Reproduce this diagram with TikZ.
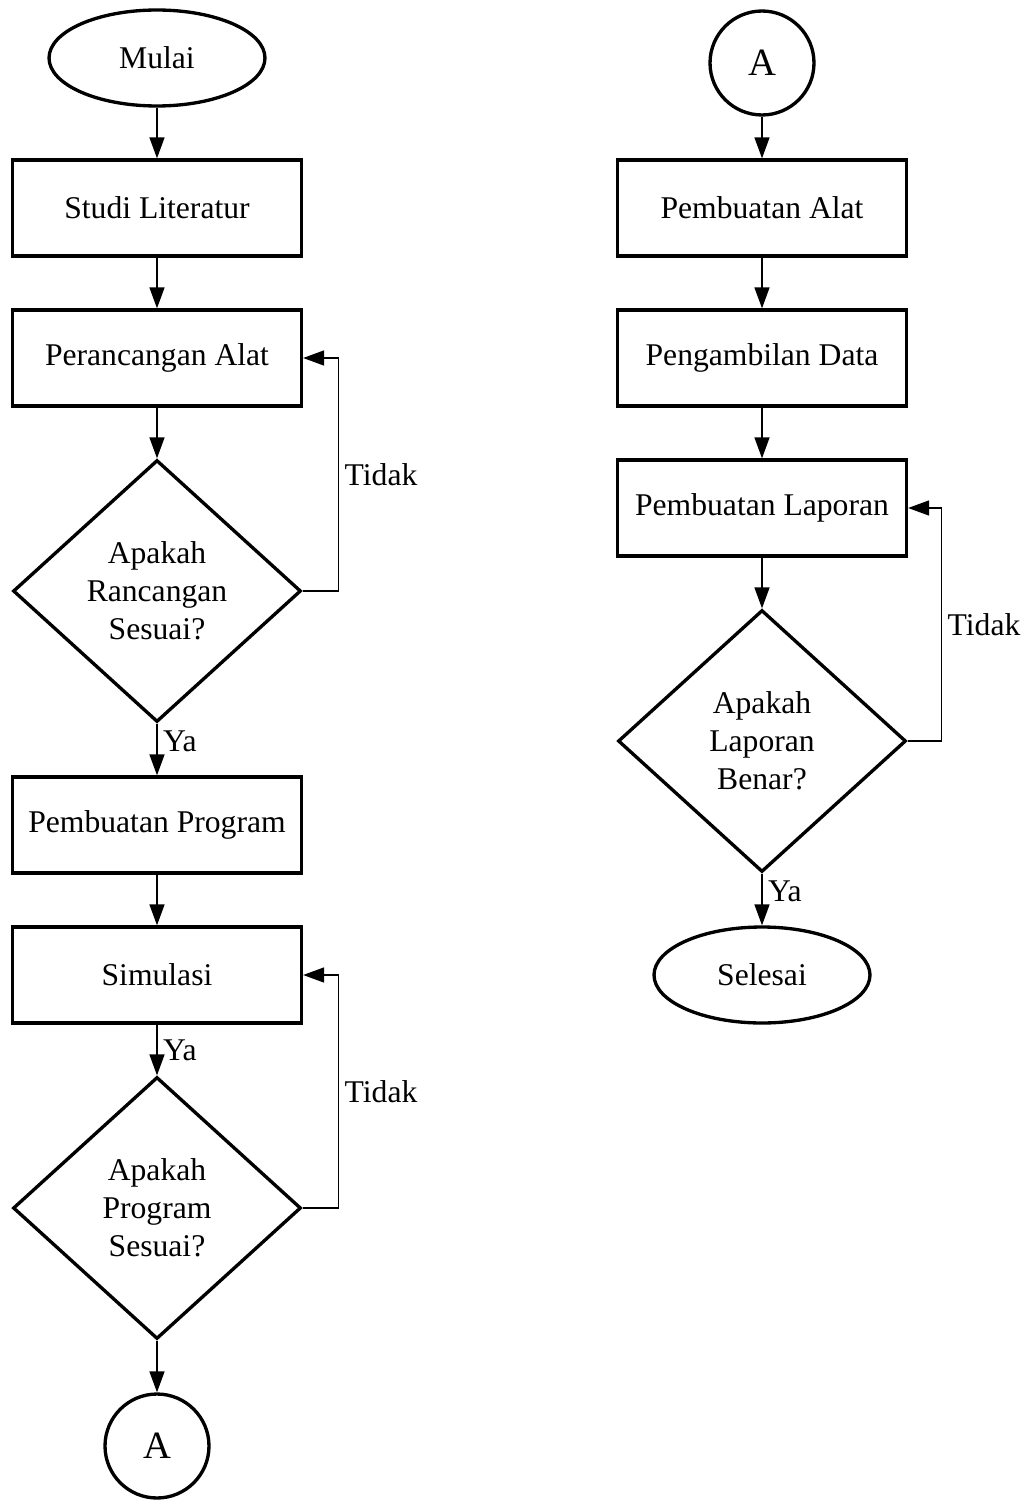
\documentclass[tikz,border=0pt]{standalone}
\usepackage{fontspec}
\setmainfont{Liberation Serif}
\usetikzlibrary{shapes.geometric, arrows.meta, positioning}

\begin{document}
\begin{tikzpicture}[x=0.02cm, y=-0.02cm,
  font=\fontsize{18}{21.6}\selectfont,
  terminal/.style={draw, ellipse, line width=1.9pt, minimum width=4.32cm, minimum height=1.92cm, inner sep=0pt},
  process/.style={draw, rectangle, line width=1.9pt, minimum width=5.78cm, minimum height=1.92cm, inner sep=0pt},
  decision/.style={draw, diamond, line width=1.9pt, minimum width=5.76cm, minimum height=5.24cm, inner sep=0pt, align=center},
  connector/.style={draw, circle, line width=1.9pt, minimum size=2.08cm, inner sep=0pt, font=\fontsize{22}{26}\selectfont},
  flow/.style={line width=0.9pt, -{Triangle[length=0.42cm, width=0.3cm]}},
  label/.style={inner sep=3pt}]
  \useasboundingbox (0,0) rectangle (1029,1500);

  % Left column
  \node[terminal] (mulai) at (157,58) {Mulai};
  \node[process] (studi) at (157,208) {Studi Literatur};
  \node[process] (rancang) at (157,358) {Perancangan Alat};
  \node[decision] (cekrancang) at (157,591) {Apakah\\Rancangan\\Sesuai?};
  \node[process] (program) at (157,825) {Pembuatan Program};
  \node[process] (simulasi) at (157,975) {Simulasi};
  \node[decision] (cekprogram) at (157,1208) {Apakah\\Program\\Sesuai?};
  \node[connector] (konkiri) at (157,1446) {A};

  % Right column
  \node[connector] (konkanan) at (762,63) {A};
  \node[process] (alat) at (762,208) {Pembuatan Alat};
  \node[process] (data) at (762,358) {Pengambilan Data};
  \node[process] (laporan) at (762,508) {Pembuatan Laporan};
  \node[decision] (ceklaporan) at (762,741) {Apakah\\Laporan\\Benar?};
  \node[terminal] (selesai) at (762,975) {Selesai};

  % Connectors
  \draw[flow] (mulai) -- (studi);
  \draw[flow] (studi) -- (rancang);
  \draw[flow] (rancang) -- (cekrancang);
  \draw[flow] (cekrancang.south) -- node[label, right, pos=0.35] {Ya} (program.north);
  \draw[flow] (cekrancang.east) -- ++(36,0) |- node[label, right, pos=0.25] {Tidak} (rancang.east);
  \draw[flow] (program) -- (simulasi);
  \draw[flow] (simulasi.south) -- node[label, right, pos=0.5] {Ya} (cekprogram.north);
  \draw[flow] (cekprogram.east) -- ++(36,0) |- node[label, right, pos=0.25] {Tidak} (simulasi.east);
  \draw[flow] (cekprogram) -- (konkiri);

  \draw[flow] (konkanan) -- (alat);
  \draw[flow] (alat) -- (data);
  \draw[flow] (data) -- (laporan);
  \draw[flow] (laporan) -- (ceklaporan);
  \draw[flow] (ceklaporan.east) -- ++(34,0) |- node[label, right, pos=0.25] {Tidak} (laporan.east);
  \draw[flow] (ceklaporan.south) -- node[label, right, pos=0.35] {Ya} (selesai.north);
\end{tikzpicture}
\end{document}
